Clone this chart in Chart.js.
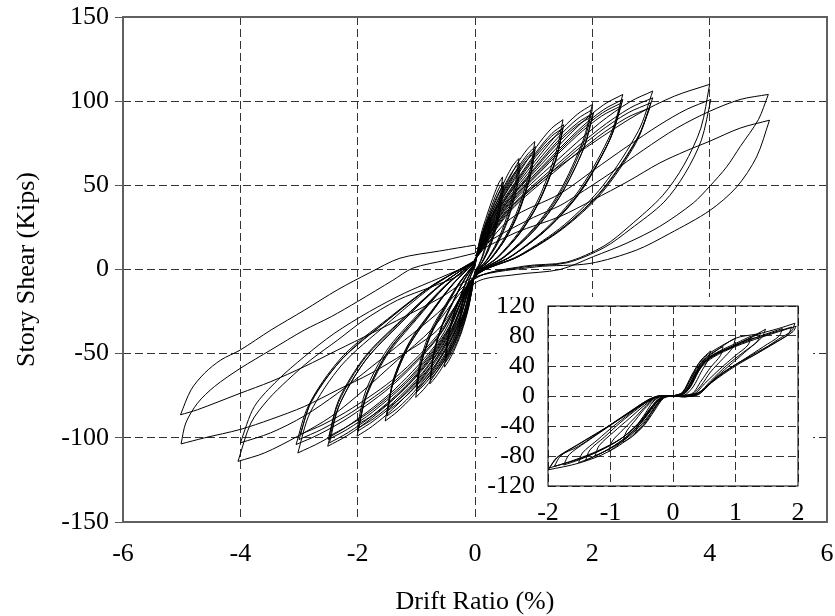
<!DOCTYPE html>
<html>
<head>
<meta charset="utf-8">
<script src="https://cdn.jsdelivr.net/npm/chart.js@4.4.0/dist/chart.umd.min.js"></script>
<style>
  html, body { margin: 0; padding: 0; background: #fff; }
  #wrap { position: relative; width: 835px; height: 616px; }
  #main { position: absolute; left: 0; top: 0; }
  #inset { position: absolute; left: 484px; top: 297px; }
</style>
</head>
<body>
<div id="wrap">
  <canvas id="main" width="835" height="616"></canvas>
  <canvas id="inset" width="329" height="224"></canvas>
</div>
<script>
// ---- tick values ----
const mainXTicks = [-6, -4, -2, 0, 2, 4, 6];
const mainYTicks = [-150, -100, -50, 0, 50, 100, 150];
const insetXTicks = [-2, -1, 0, 1, 2];
const insetYTicks = [-120, -80, -40, 0, 40, 80, 120];

// ---- main test: cycles [drift %, shear kips] ----
const cyc025a = [[0,2],[0.05,11],[0.11,19],[0.175,25],[0.22,29],[0.25,31],[0.23,24],[0.18,15],[0.125,8],[0.06,2.5],[0,-1],[-0.054,-13],[-0.12,-22],[-0.19,-29],[-0.235,-32],[-0.27,-34],[-0.25,-26.5],[-0.2,-18],[-0.135,-10],[-0.068,-3.4],[0,2]];
const cyc025b = [[0,2],[0.05,11],[0.12,18],[0.18,25],[0.23,28],[0.26,30],[0.24,23],[0.19,14],[0.13,7.5],[0.065,2.4],[0,-1.2],[-0.05,-12],[-0.12,-21],[-0.18,-27],[-0.23,-30],[-0.26,-32],[-0.24,-25],[-0.195,-17],[-0.13,-9.6],[-0.065,-3.2],[0,1.6]];
const cyc050a = [[0,3.3],[0.094,19.8],[0.21,33],[0.33,45],[0.41,51.7],[0.47,55],[0.43,42.9],[0.34,25.9],[0.235,13.8],[0.12,4.4],[0,-2.2],[-0.104,-22],[-0.234,-37.7],[-0.364,-48.7],[-0.452,-54.5],[-0.52,-58],[-0.484,-45.2],[-0.39,-30.2],[-0.26,-17.4],[-0.13,-5.8],[0,2.9]];
const cyc050b = [[0,3.1],[0.096,18.7],[0.216,31.2],[0.336,42.6],[0.418,48.9],[0.48,52],[0.44,40.6],[0.346,24.4],[0.24,13],[0.12,4.2],[0,-2.1],[-0.1,-20.9],[-0.225,-35.8],[-0.35,-46.2],[-0.435,-51.7],[-0.5,-55],[-0.465,-42.9],[-0.375,-28.6],[-0.25,-16.5],[-0.125,-5.5],[0,2.8]];
const cyc050c = [[0,3],[0.098,18],[0.22,30],[0.343,41],[0.426,47],[0.49,50],[0.45,39],[0.353,23.5],[0.245,12.5],[0.12,4],[0,-2],[-0.1,-20.1],[-0.225,-34.5],[-0.35,-44.5],[-0.435,-49.8],[-0.5,-53],[-0.465,-41.3],[-0.375,-27.6],[-0.25,-15.9],[-0.125,-5.3],[0,2.7]];
const cyc075a = [[0,4],[0.15,23.8],[0.34,39.6],[0.525,54.1],[0.65,62],[0.75,66],[0.69,51.5],[0.54,31],[0.375,16.5],[0.19,5.3],[0,-2.6],[-0.154,-25.8],[-0.35,-44.2],[-0.54,-57.1],[-0.67,-63.9],[-0.77,-68],[-0.716,-53],[-0.578,-35.4],[-0.385,-20.4],[-0.19,-6.8],[0,3.4]];
const cyc075b = [[0,3.8],[0.15,22.7],[0.34,37.8],[0.53,51.7],[0.66,59.2],[0.76,63],[0.7,49.1],[0.55,29.6],[0.38,15.8],[0.19,5],[0,-2.5],[-0.15,-24.7],[-0.34,-42.3],[-0.53,-54.6],[-0.66,-61.1],[-0.76,-65],[-0.71,-50.7],[-0.57,-33.8],[-0.38,-19.5],[-0.19,-6.5],[0,3.3]];
const cyc075c = [[0,3.7],[0.154,22],[0.35,36.6],[0.54,50],[0.67,57.3],[0.77,61],[0.71,47.6],[0.554,28.7],[0.385,15.3],[0.19,4.9],[0,-2.4],[-0.15,-23.9],[-0.34,-41],[-0.525,-52.9],[-0.65,-59.2],[-0.75,-63],[-0.7,-49.1],[-0.56,-32.8],[-0.375,-18.9],[-0.19,-6.3],[0,3.2]];
const cyc100a = [[0,4.6],[0.2,27.4],[0.46,45.6],[0.71,62.3],[0.89,71.4],[1.02,76],[0.94,59.3],[0.73,35.7],[0.51,19],[0.255,6.1],[0,-3],[-0.2,-28.9],[-0.45,-49.4],[-0.71,-63.8],[-0.88,-71.4],[-1.01,-76],[-0.94,-59.3],[-0.76,-39.5],[-0.5,-22.8],[-0.25,-7.6],[0,3.8]];
const cyc100b = [[0,4.4],[0.21,26.3],[0.46,43.8],[0.72,59.9],[0.9,68.6],[1.03,73],[0.95,56.9],[0.74,34.3],[0.515,18.3],[0.26,5.8],[0,-2.9],[-0.2,-27.7],[-0.45,-47.5],[-0.7,-61.3],[-0.87,-68.6],[-1.0,-73],[-0.93,-56.9],[-0.75,-38],[-0.5,-21.9],[-0.25,-7.3],[0,3.7]];
const cyc100c = [[0,4.3],[0.2,25.6],[0.46,42.6],[0.71,58.2],[0.89,66.7],[1.02,71],[0.94,55.4],[0.73,33.4],[0.51,17.8],[0.255,5.7],[0,-2.8],[-0.2,-27],[-0.445,-46.2],[-0.69,-59.6],[-0.86,-66.7],[-0.99,-71],[-0.92,-55.4],[-0.74,-36.9],[-0.495,-21.3],[-0.25,-7.1],[0,3.6]];
const cyc100d = [[0,4.1],[0.2,24.8],[0.455,41.4],[0.71,56.6],[0.88,64.9],[1.01,69],[0.93,53.8],[0.73,32.4],[0.505,17.3],[0.25,5.5],[0,-2.8],[-0.2,-26.2],[-0.45,-44.9],[-0.7,-58],[-0.87,-64.9],[-1.0,-69],[-0.93,-53.8],[-0.75,-35.9],[-0.5,-20.7],[-0.25,-6.9],[0,3.5]];
const cyc150a = [[0,5.3],[0.3,32],[0.675,53.4],[1.05,73],[1.3,83.7],[1.5,89],[1.38,69.4],[1.08,41.8],[0.75,22.3],[0.375,7.1],[0,-3.6],[-0.306,-34.2],[-0.69,-58.5],[-1.07,-75.6],[-1.33,-84.6],[-1.53,-90],[-1.42,-70.2],[-1.15,-46.8],[-0.765,-27],[-0.38,-9],[0,4.5]];
const cyc150b = [[0,5.2],[0.3,31],[0.68,51.6],[1.06,70.5],[1.31,80.8],[1.51,86],[1.39,67.1],[1.09,40.4],[0.755,21.5],[0.38,6.9],[0,-3.4],[-0.3,-33.1],[-0.675,-56.6],[-1.05,-73.1],[-1.3,-81.8],[-1.5,-87],[-1.4,-67.9],[-1.125,-45.2],[-0.75,-26.1],[-0.375,-8.7],[0,4.4]];
const cyc150c = [[0,5],[0.3,30.2],[0.675,50.4],[1.05,68.9],[1.3,79],[1.5,84],[1.38,65.5],[1.08,39.5],[0.75,21],[0.375,6.7],[0,-3.4],[-0.3,-31.9],[-0.67,-54.6],[-1.04,-70.6],[-1.3,-79],[-1.49,-84],[-1.39,-65.5],[-1.12,-43.7],[-0.745,-25.2],[-0.37,-8.4],[0,4.2]];
const cyc150d = [[0,4.9],[0.3,29.5],[0.67,49.2],[1.04,67.2],[1.3,77.1],[1.49,82],[1.37,64],[1.07,38.5],[0.745,20.5],[0.37,6.6],[0,-3.3],[-0.3,-31.2],[-0.67,-53.3],[-1.04,-68.9],[-1.29,-77.1],[-1.48,-82],[-1.38,-64],[-1.11,-42.6],[-0.74,-24.6],[-0.37,-8.2],[0,4.1]];
const cyc200a = [[0,5.9],[0.4,35.3],[0.9,58.8],[1.4,80.4],[1.74,92.1],[2.0,98],[1.84,76.4],[1.44,46.1],[1.0,24.5],[0.5,7.8],[0,-3.9],[-0.4,-37.6],[-0.9,-64.4],[-1.41,-83.2],[-1.75,-93.1],[-2.01,-99],[-1.87,-77.2],[-1.51,-51.5],[-1.0,-29.7],[-0.5,-9.9],[0,5]];
const cyc200b = [[0,5.7],[0.4,34.2],[0.9,57],[1.4,77.9],[1.74,89.3],[2.0,95],[1.84,74.1],[1.44,44.7],[1.0,23.8],[0.5,7.6],[0,-3.8],[-0.4,-36.5],[-0.9,-62.4],[-1.4,-80.6],[-1.74,-90.2],[-2.0,-96],[-1.86,-74.9],[-1.5,-49.9],[-1.0,-28.8],[-0.5,-9.6],[0,4.8]];
const cyc200c = [[0,5.6],[0.4,33.5],[0.91,55.8],[1.41,76.3],[1.76,87.4],[2.02,93],[1.86,72.5],[1.45,43.7],[1.01,23.3],[0.5,7.4],[0,-3.7],[-0.4,-35.7],[-0.89,-61.1],[-1.39,-79],[-1.72,-88.4],[-1.98,-94],[-1.84,-73.3],[-1.49,-48.9],[-0.99,-28.2],[-0.5,-9.4],[0,4.7]];
const cyc200d = [[0,5.5],[0.4,32.8],[0.9,54.6],[1.4,74.6],[1.74,85.5],[2.0,91],[1.84,71],[1.44,42.8],[1.0,22.8],[0.5,7.3],[0,-3.6],[-0.4,-35],[-0.9,-59.8],[-1.4,-77.3],[-1.74,-86.5],[-2.0,-92],[-1.86,-71.8],[-1.5,-47.8],[-1.0,-27.6],[-0.5,-9.2],[0,4.6]];
const cyc250a = [[0,6.2],[0.5,37.4],[1.13,62.4],[1.76,85.3],[2.19,97.8],[2.52,104],[2.32,81.1],[1.81,48.9],[1.26,26],[0.63,8.3],[0,-4.2],[-0.5,-39.9],[-1.13,-68.3],[-1.76,-88.2],[-2.18,-98.7],[-2.51,-105],[-2.33,-81.9],[-1.88,-54.6],[-1.255,-31.5],[-0.63,-10.5],[0,5.3]];
const cyc250b = [[0,6.1],[0.5,36.4],[1.13,60.6],[1.76,82.8],[2.19,94.9],[2.52,101],[2.32,78.8],[1.81,47.5],[1.26,25.3],[0.63,8.1],[0,-4],[-0.5,-39.1],[-1.12,-67],[-1.74,-86.5],[-2.16,-96.8],[-2.48,-103],[-2.31,-80.3],[-1.86,-53.6],[-1.24,-30.9],[-0.62,-10.3],[0,5.2]];
const cyc250c = [[0,5.9],[0.5,35.6],[1.125,59.4],[1.75,81.2],[2.175,93.1],[2.5,99],[2.3,77.2],[1.8,46.5],[1.25,24.8],[0.625,7.9],[0,-4],[-0.5,-38.4],[-1.125,-65.7],[-1.75,-84.8],[-2.175,-94.9],[-2.5,-101],[-2.325,-78.8],[-1.875,-52.5],[-1.25,-30.3],[-0.625,-10.1],[0,5.1]];
const cyc250d = [[0,5.8],[0.5,34.9],[1.12,58.2],[1.74,79.5],[2.16,91.2],[2.48,97],[2.28,75.7],[1.79,45.6],[1.24,24.3],[0.62,7.8],[0,-3.9],[-0.5,-37.6],[-1.12,-64.4],[-1.74,-83.2],[-2.17,-93.1],[-2.49,-99],[-2.32,-77.2],[-1.87,-51.5],[-1.245,-29.7],[-0.62,-9.9],[0,5]];
const cyc300a = [[0,6.4],[0.6,38.2],[1.36,63.6],[2.12,86.9],[2.64,99.6],[3.03,106],[2.79,82.7],[2.18,49.8],[1.52,26.5],[0.76,8.5],[0,-4.2],[-0.6,-41.4],[-1.36,-70.9],[-2.11,-91.6],[-2.63,-102.5],[-3.02,-109],[-2.81,-85],[-2.27,-56.7],[-1.51,-32.7],[-0.755,-10.9],[0,5.5]];
const cyc300b = [[0,6.1],[0.6,36.7],[1.36,61.2],[2.12,83.6],[2.64,95.9],[3.03,102],[2.79,79.6],[2.18,47.9],[1.52,25.5],[0.76,8.2],[0,-4.1],[-0.61,-39.5],[-1.37,-67.6],[-2.13,-87.4],[-2.65,-97.8],[-3.05,-104],[-2.84,-81.1],[-2.29,-54.1],[-1.525,-31.2],[-0.76,-10.4],[0,5.2]];
const cyc300c = [[0,5.9],[0.6,35.6],[1.35,59.4],[2.1,81.2],[2.61,93.1],[3.0,99],[2.76,77.2],[2.16,46.5],[1.5,24.8],[0.75,7.9],[0,-4],[-0.6,-38.4],[-1.35,-65.7],[-2.1,-84.8],[-2.61,-94.9],[-3.0,-101],[-2.79,-78.8],[-2.25,-52.5],[-1.5,-30.3],[-0.75,-10.1],[0,5.1]];
const cyc300d = [[0,5.8],[0.6,34.6],[1.34,57.6],[2.09,78.7],[2.59,90.2],[2.98,96],[2.74,74.9],[2.15,45.1],[1.49,24],[0.745,7.7],[0,-3.8],[-0.6,-37.2],[-1.34,-63.7],[-2.09,-82.3],[-2.59,-92.1],[-2.98,-98],[-2.77,-76.4],[-2.24,-51],[-1.49,-29.4],[-0.745,-9.8],[0,4.9]];
const cyc400a = [[0,8],[0.5,33],[1.2,55],[2.0,75],[2.76,92],[3.4,103],[4.0,110],[3.85,84],[3.56,62],[3.2,44],[2.64,26],[2.2,14],[1.56,4.4],[0.84,2],[0,-5.5],[-0.75,-36],[-1.32,-53.7],[-1.89,-71.5],[-2.45,-87.3],[-3.02,-99],[-3.59,-109],[-4.04,-114],[-3.82,-91.2],[-3.53,-77.4],[-3.19,-65.6],[-2.8,-53.7],[-2.34,-41.9],[-1.89,-30],[-1.32,-18.2],[-0.75,-10.4],[-0.3,-4],[0,4]];
const cyc400b = [[0,6],[0.6,30],[1.45,45],[2.02,59],[2.59,73],[3.15,86],[3.6,95],[4.02,101],[3.86,77],[3.58,57],[3.22,40],[2.65,24],[2.2,13],[1.57,4],[0.84,1.5],[0,-5],[-0.64,-26],[-1.2,-42],[-1.77,-58],[-2.34,-73.5],[-2.91,-87],[-3.48,-97],[-4.0,-103],[-3.76,-81.4],[-3.36,-65.6],[-2.91,-51.8],[-2.4,-38],[-1.8,-25],[-1.2,-14],[-0.6,-5],[0,4]];
const cyc500a = [[0,12],[0.5,22],[1.0,31],[1.45,38],[1.73,44],[2.3,57],[2.87,71],[3.44,84],[4.0,94],[4.52,101],[5.0,104],[4.83,89],[4.52,73],[4.29,61],[4.0,49.4],[3.72,39.5],[3.15,25.6],[2.59,15.7],[2.02,7.7],[1.45,0],[0.7,-3],[0,-8],[-0.64,-36],[-1.2,-49.8],[-1.77,-61.6],[-2.34,-71.5],[-2.91,-81.4],[-3.48,-89],[-4.0,-95],[-4.61,-100],[-5.01,-103.6],[-4.93,-91.2],[-4.73,-79.4],[-4.44,-69.5],[-4.0,-58.7],[-3.48,-47.8],[-2.91,-36],[-2.45,-28],[-2.0,-19],[-1.4,-6.4],[-1.06,0.8],[-0.5,5.5],[0,9.7]];
const cyc500b = [[0,10],[0.7,22],[1.45,31.5],[2.02,41.5],[2.59,52],[3.15,63.3],[3.6,70.5],[4.0,76.2],[4.52,84],[5.02,88.7],[4.8,66.9],[4.46,49],[4.0,35],[3.32,21.4],[2.75,11.5],[1.96,3.6],[1.05,1.6],[0,-4.4],[-0.6,-17],[-1.2,-28],[-1.77,-38],[-2.34,-47.8],[-2.91,-57.7],[-3.48,-66.6],[-4.0,-73.5],[-4.73,-83.3],[-5.02,-86.3],[-4.84,-71.5],[-4.61,-61.6],[-4.33,-53.7],[-4.0,-47.8],[-3.48,-36],[-2.91,-24.2],[-2.34,-12],[-1.8,-2],[-1.28,6.7],[-0.6,11],[0,14.5]];

// ---- inset test ----
const ins060 = [[0,0],[0.15,5],[0.3,28],[0.45,48],[0.6,60],[0.56,48],[0.45,32],[0.32,12],[0.18,1],[0,0],[-0.15,-3],[-0.3,-20],[-0.45,-38],[-0.6,-50],[-0.56,-38],[-0.45,-24],[-0.32,-8],[-0.18,0],[0,0]];
const ins080 = [[0,0],[0.15,4],[0.3,25],[0.45,45],[0.6,56],[0.8,66],[0.76,54],[0.6,38],[0.45,20],[0.3,3],[0,0],[-0.15,-2],[-0.3,-18],[-0.48,-40],[-0.65,-54],[-0.8,-62],[-0.75,-48],[-0.6,-32],[-0.42,-14],[-0.22,-1],[0,0]];
const ins100 = [[0,0],[0.15,4],[0.28,22],[0.4,42],[0.55,55],[0.8,68],[1.0,77],[0.95,64],[0.8,50],[0.6,32],[0.45,14],[0.3,2],[0,0],[-0.15,-2],[-0.3,-16],[-0.48,-38],[-0.7,-56],[-0.9,-68],[-1.03,-74],[-0.97,-60],[-0.8,-45],[-0.6,-28],[-0.42,-12],[-0.25,-1],[0,0]];
const ins125 = [[0,0],[0.2,6],[0.35,30],[0.5,47],[0.7,58],[1.0,70],[1.25,80],[1.2,68],[1.0,54],[0.75,36],[0.5,16],[0.33,2],[0,0],[-0.18,-3],[-0.35,-22],[-0.55,-42],[-0.8,-60],[-1.05,-72],[-1.25,-80],[-1.18,-66],[-0.95,-48],[-0.7,-30],[-0.45,-12],[-0.25,-1],[0,0]];
const ins140 = [[0,0],[0.18,4],[0.32,24],[0.46,42],[0.62,54],[0.95,66],[1.4,84],[1.35,73],[1.12,58],[0.85,40],[0.6,20],[0.4,4],[0,0],[-0.16,-2],[-0.32,-14],[-0.52,-36],[-0.8,-58],[-1.1,-74],[-1.4,-86],[-1.33,-72],[-1.1,-55],[-0.85,-36],[-0.55,-16],[-0.3,-2],[0,0]];
const ins150 = [[0,0],[0.15,3],[0.3,20],[0.45,40],[0.6,52],[0.9,64],[1.2,76],[1.48,89],[1.42,78],[1.2,62],[0.95,44],[0.7,26],[0.48,8],[0.3,0],[0,0],[-0.15,-1],[-0.3,-12],[-0.5,-35],[-0.75,-55],[-1.05,-72],[-1.3,-82],[-1.51,-89],[-1.45,-76],[-1.2,-58],[-0.95,-40],[-0.7,-24],[-0.45,-8],[-0.25,0],[0,0]];
const ins175 = [[0,0],[0.2,4],[0.35,26],[0.5,44],[0.7,56],[1.0,67],[1.4,80],[1.75,90],[1.7,80],[1.45,66],[1.1,47],[0.75,28],[0.5,10],[0.3,0],[0,0],[-0.2,-2],[-0.35,-15],[-0.55,-36],[-0.85,-58],[-1.2,-74],[-1.5,-85],[-1.75,-92],[-1.66,-78],[-1.4,-62],[-1.05,-42],[-0.7,-22],[-0.42,-6],[-0.22,0],[0,0]];
const ins190 = [[0,0],[0.14,2],[0.28,12],[0.4,32],[0.52,46],[0.75,58],[1.1,72],[1.5,82],[1.9,92],[1.84,82],[1.6,70],[1.25,54],[0.9,36],[0.6,17],[0.42,3],[0.2,-1],[0,0],[-0.15,-1],[-0.28,-8],[-0.45,-28],[-0.75,-52],[-1.1,-70],[-1.5,-84],[-1.9,-94],[-1.8,-80],[-1.5,-64],[-1.1,-44],[-0.75,-24],[-0.45,-8],[-0.25,-1],[0,0]];
const ins197 = [[0,0],[0.15,2],[0.3,16],[0.45,38],[0.65,52],[1.0,66],[1.4,78],[1.97,93],[1.92,86],[1.7,74],[1.35,57],[1.0,42],[0.65,22],[0.43,5],[0.2,-1],[0,0],[-0.15,-1],[-0.3,-10],[-0.5,-32],[-0.8,-55],[-1.2,-73],[-1.6,-86],[-1.98,-96],[-1.86,-82],[-1.55,-66],[-1.15,-46],[-0.8,-28],[-0.5,-12],[-0.28,-2],[0,0]];
const ins200 = [[0,0],[0.12,2],[0.25,9],[0.36,29],[0.46,45],[0.62,56],[1.0,77],[1.37,83],[1.69,90],[1.95,97],[1.9,87],[1.69,76],[1.37,58],[1.0,40],[0.62,18],[0.41,2],[0.2,-1],[0,0],[-0.12,0],[-0.23,-4.5],[-0.34,-18],[-0.66,-49],[-1.03,-74],[-1.51,-89.6],[-2.0,-98.5],[-1.83,-80.6],[-1.51,-67],[-1.03,-40],[-0.66,-20],[-0.34,-4.5],[-0.23,0],[0,0]];

const mainCycles = [cyc025a, cyc025b, cyc050a, cyc050b, cyc050c, cyc075a, cyc075b, cyc075c,
  cyc100a, cyc100b, cyc100c, cyc100d, cyc150a, cyc150b, cyc150c, cyc150d,
  cyc200a, cyc200b, cyc200c, cyc200d, cyc250a, cyc250b, cyc250c, cyc250d,
  cyc300a, cyc300b, cyc300c, cyc300d, cyc400a, cyc400b, cyc500a, cyc500b];
const insetCycles = [ins060, ins080, ins100, ins125, ins140, ins150, ins175, ins190, ins197, ins200];

Chart.defaults.font.family = "'Liberation Serif', 'Times New Roman', serif";
Chart.defaults.font.size = 26;
Chart.defaults.color = '#000';

// split a cycle where drift reverses, so the peaks stay sharp
function branches(pts) {
    const out = [];
    let cur = [pts[0]], dir = 0;
    for (let i = 1; i < pts.length; i++) {
        const d = Math.sign(pts[i][0] - pts[i - 1][0]);
        if (dir && d && d !== dir) { out.push(cur); cur = [pts[i - 1]]; }
        if (d) dir = d;
        cur.push(pts[i]);
    }
    out.push(cur);
    return out;
}

function toDatasets(cycles) {
    const sets = [];
    cycles.forEach(c => branches(c).forEach(b => sets.push({
        data: b.map(p => ({ x: p[0], y: p[1] })),
        showLine: true,
        borderColor: '#000',
        borderWidth: 1,
        pointRadius: 0,
        tension: 0.3,
        fill: false
    })));
    return sets;
}

const framePlugin = {
    id: 'frame',
    afterDraw(chart, args, opts) {
        const { ctx, chartArea: a } = chart;
        ctx.save();
        ctx.strokeStyle = opts.color;
        ctx.lineWidth = opts.width;
        ctx.setLineDash([]);
        ctx.strokeRect(a.left, a.top, a.right - a.left, a.bottom - a.top);
        ctx.restore();
    }
};

const whiteBg = {
    id: 'whiteBg',
    beforeDraw(chart, args, opts) {
        const ctx = chart.ctx;
        ctx.save();
        ctx.fillStyle = '#fff';
        ctx.fillRect(opts.left, 0, chart.width - opts.left, chart.height);
        ctx.restore();
    }
};

// fixed axis boxes, no extra room for overhanging labels
const fixX = h => s => { s.height = h; s.paddingLeft = 0; s.paddingRight = 0; };
const fixY = w => s => { s.width = w; s.paddingTop = 0; s.paddingBottom = 0; };

const gridCfg = { color: '#333', lineWidth: 1 };
const dash = [8, 4];

// =================== MAIN CHART ===================
new Chart(document.getElementById('main'), {
    type: 'scatter',
    data: { datasets: toDatasets(mainCycles) },
    options: {
        responsive: false,
        animation: false,
        devicePixelRatio: 1,
        layout: { padding: { top: 17, right: 8, left: 0, bottom: 0 } },
        plugins: { legend: { display: false }, tooltip: { enabled: false }, frame: { color: '#606060', width: 2 } },
        scales: {
            x: {
                type: 'linear', min: -6, max: 6,
                afterBuildTicks: s => { s.ticks = mainXTicks.map(v => ({ value: v })); },
                afterFit: fixX(94),
                ticks: { padding: 17, autoSkip: false, maxRotation: 0 },
                grid: { ...gridCfg, drawTicks: false },
                border: { display: false, dash: dash },
                title: { display: true, text: 'Drift Ratio (%)', font: { size: 26, lineHeight: 1 }, padding: { top: 0, bottom: 1 } }
            },
            y: {
                type: 'linear', min: -150, max: 150,
                afterBuildTicks: s => { s.ticks = mainYTicks.map(v => ({ value: v })); },
                afterFit: fixY(123),
                ticks: { padding: 6, autoSkip: false },
                grid: { ...gridCfg, drawTicks: true, tickLength: 8, tickColor: '#555', tickBorderDash: [] },
                border: { display: false, dash: dash },
                title: { display: true, text: 'Story Shear (Kips)', font: { size: 26, lineHeight: 1 }, padding: { top: 14, bottom: 0 } }
            }
        }
    },
    plugins: [framePlugin]
});

// =================== INSET CHART ===================
new Chart(document.getElementById('inset'), {
    type: 'scatter',
    data: { datasets: toDatasets(insetCycles) },
    options: {
        responsive: false,
        animation: false,
        devicePixelRatio: 1,
        layout: { padding: { top: 9, right: 15, left: 0, bottom: 0 } },
        plugins: { legend: { display: false }, tooltip: { enabled: false }, frame: { color: '#000', width: 1 }, whiteBg: { left: 13 } },
        scales: {
            x: {
                type: 'linear', min: -2, max: 2,
                afterBuildTicks: s => { s.ticks = insetXTicks.map(v => ({ value: v })); },
                afterFit: fixX(35),
                ticks: { padding: 12, autoSkip: false, maxRotation: 0 },
                grid: { ...gridCfg, drawTicks: false },
                border: { display: false, dash: dash }
            },
            y: {
                type: 'linear', min: -120, max: 120,
                afterBuildTicks: s => { s.ticks = insetYTicks.map(v => ({ value: v })); },
                afterFit: fixY(64),
                ticks: { padding: 13, autoSkip: false },
                grid: { ...gridCfg, drawTicks: false },
                border: { display: false, dash: dash }
            }
        }
    },
    plugins: [whiteBg, framePlugin]
});
</script>
</body>
</html>
